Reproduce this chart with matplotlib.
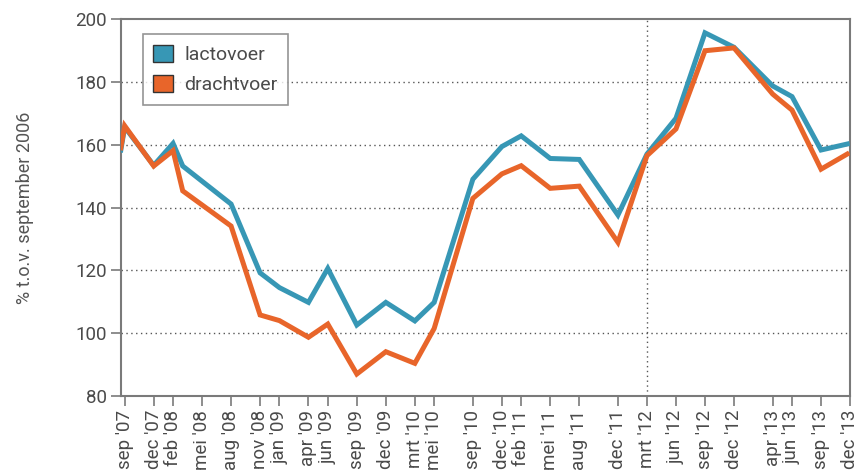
import numpy as np
import matplotlib
matplotlib.use("Agg")
import matplotlib.pyplot as plt
from matplotlib.patches import Patch

plt.rcParams['font.family'] = ['Roboto', 'DejaVu Sans']

# month index, sep '07 = 0
tick_pos = [0, 3, 5, 8, 11, 14, 16, 19, 21, 24, 27, 30, 32, 36, 39, 41, 44, 47,
            51, 54, 57, 60, 63, 67, 69, 72, 75]
tick_labels = ["sep '07", "dec '07", "feb '08", "mei '08", "aug '08", "nov '08",
               "jan '09", "apr '09", "jun '09", "sep '09", "dec '09", "mrt '10",
               "mei '10", "sep '10", "dec '10", "feb '11", "mei '11", "aug '11",
               "dec '11", "mrt '12", "jun '12", "sep '12", "dec '12", "apr '13",
               "jun '13", "sep '13", "dec '13"]

months = [-0.4, 0, 3, 5, 6, 11, 14, 16, 19, 21, 24, 27, 30, 32, 36, 39, 41, 44,
          47, 51, 54, 57, 60, 63, 67, 69, 72, 74.7]
lactovoer = [158.3, 165.6, 153.4, 160.4, 153.2, 141.1, 119.2, 114.5, 109.8,
             120.6, 102.6, 109.8, 103.9, 109.8, 149.0, 159.4, 162.8, 155.6,
             155.3, 137.6, 157.0, 168.4, 195.6, 191.0, 178.7, 175.3, 158.3, 160.2]
drachtvoer = [159.0, 166.0, 153.2, 158.1, 145.3, 134.1, 105.8, 104.0, 98.7,
              102.9, 87.0, 94.1, 90.4, 101.5, 142.9, 150.7, 153.3, 146.1,
              146.8, 128.9, 156.5, 165.0, 189.9, 190.8, 176.1, 171.0, 152.2, 157.0]

blue = '#3797b5'
orange = '#e8652a'
grey = '#7a7a7a'
txt = '#4a4a4a'

fig = plt.figure(figsize=(8.63, 4.75), dpi=100)
ax = fig.add_axes([0.140, 0.1663, 0.845, 0.7937])

ax.plot(months, lactovoer, color=blue, lw=3.6, solid_joinstyle='miter', zorder=3)
ax.plot(months, drachtvoer, color=orange, lw=3.6, solid_joinstyle='miter', zorder=4)

ax.set_xlim(-0.4, 75)
ax.set_ylim(80, 200)
ax.set_yticks(range(80, 201, 20))
ax.set_xticks(tick_pos)
ax.set_xticklabels(tick_labels, rotation=90)

for v in range(100, 200, 20):
    ax.axhline(v, color='#555555', lw=1, ls=(0, (1, 2.5)), zorder=1)
ax.axvline(54, color='#555555', lw=1, ls=(0, (1, 2.5)), zorder=1)

for s in ax.spines.values():
    s.set_color(grey)
    s.set_linewidth(1.5)

ax.tick_params(axis='both', direction='out', length=7, width=1.2, color=grey,
               labelcolor=txt, labelsize=13.5, pad=3)
ax.set_ylabel('% t.o.v. september 2006', color='#555555', fontsize=13,
              labelpad=30)

handles = [Patch(facecolor=blue, edgecolor='#333333', label='lactovoer'),
           Patch(facecolor=orange, edgecolor='#333333', label='drachtvoer')]
leg = ax.legend(handles=handles, loc='upper left', bbox_to_anchor=(0.03, 0.96),
                borderaxespad=0, fontsize=14, frameon=True, fancybox=False,
                handlelength=1.0, handleheight=1.0, handletextpad=0.6,
                borderpad=0.55, labelspacing=0.55)
leg.get_frame().set_edgecolor(grey)
leg.get_frame().set_linewidth(1.2)
for t in leg.get_texts():
    t.set_color(txt)

fig.savefig('out.png', dpi=100)
